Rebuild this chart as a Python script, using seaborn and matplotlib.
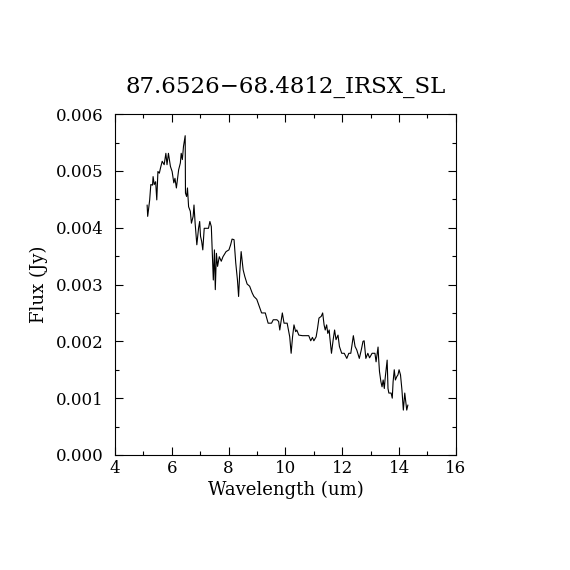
import numpy as np
import pandas as pd
import matplotlib
matplotlib.use("Agg")
import matplotlib.pyplot as plt
import seaborn as sns
from matplotlib.ticker import MultipleLocator

wavelength = [5.13, 5.15, 5.22, 5.26, 5.32, 5.34, 5.38, 5.43, 5.47, 5.51, 5.56, 5.60, 5.66, 5.73,
              5.79, 5.83, 5.88, 5.95, 6.01, 6.07, 6.11, 6.16, 6.24, 6.30, 6.33, 6.37, 6.41, 6.47,
              6.48, 6.52, 6.55, 6.59, 6.65, 6.69, 6.75, 6.78, 6.82, 6.88, 6.94, 6.98, 7.01, 7.05,
              7.09, 7.14, 7.21, 7.29, 7.34, 7.39, 7.43, 7.46, 7.50, 7.53, 7.57, 7.61, 7.67, 7.74,
              7.80, 7.91, 8.01, 8.07, 8.12, 8.19, 8.25, 8.31, 8.35, 8.39, 8.44, 8.51, 8.57, 8.65,
              8.74, 8.83, 8.89, 8.99, 9.08, 9.16, 9.29, 9.39, 9.51, 9.57, 9.70, 9.76, 9.80, 9.89,
              9.95, 10.06, 10.15, 10.20, 10.25, 10.30, 10.36, 10.40, 10.47, 10.60, 10.72, 10.82,
              10.89, 10.95, 11.00, 11.08, 11.13, 11.18, 11.26, 11.31, 11.36, 11.40, 11.45, 11.49,
              11.54, 11.56, 11.62, 11.68, 11.73, 11.78, 11.85, 11.90, 11.98, 12.07, 12.16, 12.23,
              12.30, 12.39, 12.45, 12.51, 12.60, 12.67, 12.73, 12.77, 12.83, 12.90, 12.96, 13.05,
              13.15, 13.19, 13.26, 13.28, 13.31, 13.36, 13.40, 13.44, 13.48, 13.51, 13.58, 13.61,
              13.64, 13.72, 13.76, 13.79, 13.83, 13.87, 13.92, 13.96, 14.00, 14.05, 14.10, 14.15,
              14.20, 14.27, 14.31]

flux_mjy = [4.40, 4.20, 4.49, 4.76, 4.75, 4.90, 4.76, 4.81, 4.49, 4.99, 4.96, 5.05, 5.17, 5.11,
            5.31, 5.11, 5.31, 5.08, 4.99, 4.79, 4.87, 4.70, 5.02, 5.14, 5.31, 5.20, 5.43, 5.62,
            4.61, 4.55, 4.70, 4.37, 4.29, 4.08, 4.20, 4.40, 4.08, 3.70, 3.99, 4.11, 3.85, 3.76,
            3.61, 3.99, 3.99, 3.99, 4.11, 4.02, 3.49, 3.08, 3.61, 2.91, 3.55, 3.32, 3.49, 3.41,
            3.49, 3.58, 3.61, 3.70, 3.80, 3.79, 3.38, 3.08, 2.79, 3.20, 3.58, 3.26, 3.14, 3.01,
            2.97, 2.85, 2.79, 2.74, 2.61, 2.50, 2.50, 2.32, 2.32, 2.38, 2.38, 2.35, 2.20, 2.50,
            2.32, 2.32, 2.08, 1.79, 2.08, 2.29, 2.17, 2.20, 2.11, 2.10, 2.10, 2.10,
            2.01, 2.07, 2.01, 2.08, 2.23, 2.41, 2.44, 2.50, 2.29, 2.20, 2.29, 2.14,
            2.20, 2.08, 1.79, 2.03, 2.20, 2.03, 2.11, 1.91, 1.79, 1.79, 1.70, 1.79,
            1.79, 2.10, 1.91, 1.85, 1.70, 1.85, 2.00, 2.01, 1.70, 1.79, 1.71, 1.79,
            1.79, 1.64, 1.90, 1.70, 1.47, 1.29, 1.20, 1.32, 1.17, 1.35, 1.67, 1.17,
            1.09, 1.09, 1.00, 1.29, 1.50, 1.32, 1.38, 1.41, 1.50, 1.41, 1.15, 0.79,
            1.09, 0.79, 0.88]

df = pd.DataFrame({"wavelength": wavelength, "flux": np.array(flux_mjy) / 1000.0})

sns.set_style("ticks")
plt.rcParams['font.family'] = ['DejaVu Serif']
plt.rcParams['text.color'] = 'black'
plt.rcParams['axes.labelcolor'] = 'black'
plt.rcParams['xtick.color'] = 'black'
plt.rcParams['ytick.color'] = 'black'

fig = plt.figure(figsize=(5.7, 5.7), dpi=100)
ax = fig.add_axes([0.2018, 0.2018, 0.598, 0.598])

sns.lineplot(data=df, x="wavelength", y="flux", color="black", linewidth=0.8,
             sort=False, estimator=None, ax=ax)

ax.set_xlim(4, 16)
ax.set_ylim(0, 0.006)
ax.xaxis.set_major_locator(MultipleLocator(2))
ax.xaxis.set_minor_locator(MultipleLocator(1))
ax.yaxis.set_major_locator(MultipleLocator(0.001))
ax.yaxis.set_minor_locator(MultipleLocator(0.0005))
ax.yaxis.set_major_formatter(matplotlib.ticker.FormatStrFormatter("%.3f"))

ax.tick_params(which="both", direction="in", top=True, right=True, labelsize=12)
ax.tick_params(axis="y", which="major", pad=8)
ax.tick_params(which="major", length=6, width=0.8)
ax.tick_params(which="minor", length=3, width=0.8)
for s in ax.spines.values():
    s.set_linewidth(0.8)
    s.set_color("black")

ax.set_xlabel("Wavelength (um)", fontsize=13, labelpad=3)
ax.set_ylabel("Flux (Jy)", fontsize=13, labelpad=6)
ax.set_title("87.6526\u221268.4812_IRSX_SL", fontsize=16.5, pad=15)

fig.savefig("out.png", dpi=100, facecolor="white")
